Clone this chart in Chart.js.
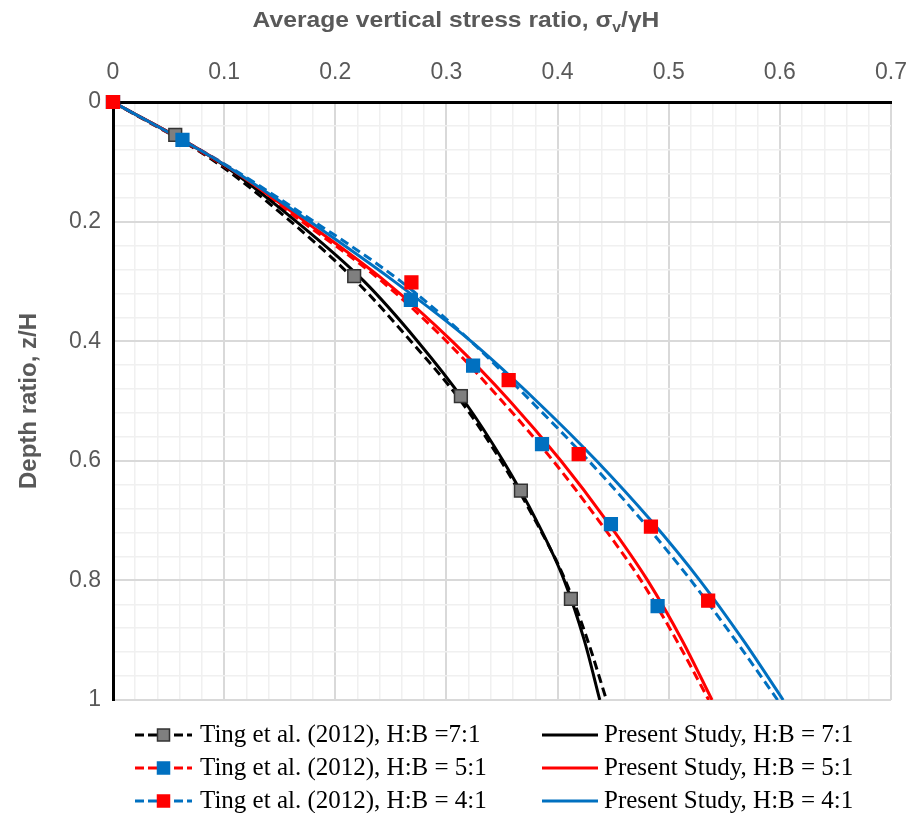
<!DOCTYPE html>
<html>
<head>
<meta charset="utf-8">
<title>Average vertical stress ratio vs depth ratio</title>
<script src="https://cdn.jsdelivr.net/npm/chart.js@4.4.0/dist/chart.umd.min.js"></script>
<style>
    html, body { margin: 0; padding: 0; background: #ffffff; }
    #wrap { width: 914px; height: 813px; position: relative; }
</style>
</head>
<body>
<div id="wrap"><canvas id="stressChart"></canvas></div>
<script>
const depthRatio = [0, 0.1, 0.2, 0.3, 0.4, 0.5, 0.6, 0.7, 0.8, 0.9, 1.0];

// present study, sigma_v / gamma H (solid lines)
const present71 = [0, 0.095, 0.165, 0.226, 0.274, 0.316, 0.351, 0.381, 0.406, 0.424, 0.438];
const present51 = [0, 0.096, 0.173, 0.245, 0.305, 0.357, 0.403, 0.444, 0.481, 0.512, 0.539];
const present41 = [0, 0.096, 0.177, 0.253, 0.322, 0.381, 0.435, 0.484, 0.528, 0.567, 0.603];

// Ting et al. (2012) curves (dashed lines)
const ting71 = [0, 0.092, 0.160, 0.219, 0.268, 0.313, 0.349, 0.380, 0.407, 0.427, 0.444];
const ting51 = [0, 0.094, 0.170, 0.242, 0.300, 0.350, 0.396, 0.437, 0.475, 0.507, 0.536];
const ting41 = [0, 0.097, 0.181, 0.259, 0.322, 0.376, 0.428, 0.476, 0.520, 0.560, 0.598];

// Ting et al. (2012) data points (squares)
const tingPtsDepth71  = [0, 0.055, 0.291, 0.492, 0.650, 0.831];
const tingPtsStress71 = [0, 0.056, 0.217, 0.313, 0.367, 0.412];
const tingPtsDepth51  = [0, 0.0635, 0.331, 0.441, 0.572, 0.706, 0.843];
const tingPtsStress51 = [0, 0.0625, 0.268, 0.324, 0.386, 0.448, 0.490];
const tingPtsDepth41  = [0, 0.3015, 0.465, 0.589, 0.710, 0.834];
const tingPtsStress41 = [0, 0.2685, 0.356, 0.419, 0.484, 0.5355];

// axis ranges / steps
const xMax = 0.7, xMinor = 0.02, xMajor = 0.1;
const yMax = 1.0, yMinor = 0.04, yMajor = 0.2;

const BLACK = '#000000';
const RED = '#ff0000';
const BLUE = '#0070c0';
const GREY = '#7f7f7f';
const AXIS_TEXT = '#595959';
const SANS = '"Liberation Sans", Arial, sans-serif';
const SERIF = '"Liberation Serif", "Times New Roman", serif';

function toPoints(xs, ys) {
    return xs.map((x, i) => ({ x: x, y: ys[i] }));
}

function isMultiple(v, step) {
    let r = v / step;
    return Math.abs(r - Math.round(r)) < 1e-6;
}

function curve(label, xs, color, dashed, order) {
    return {
        label: label,
        data: toPoints(xs, depthRatio),
        showLine: true,
        borderColor: color,
        borderWidth: 3,
        borderDash: dashed ? [9, 5] : [],
        pointRadius: 0,
        cubicInterpolationMode: 'monotone',
        order: order
    };
}

function squares(label, xs, ys, fill, edge, order) {
    return {
        label: label,
        data: toPoints(xs, ys),
        showLine: false,
        clip: false,
        pointStyle: 'rect',
        pointRadius: 9,
        pointBackgroundColor: fill,
        pointBorderColor: edge,
        pointBorderWidth: 1.5,
        order: order
    };
}

// legend rows: [text, line colour, dashed, square fill, square edge]
const legendLeft = [
    ['Ting et al. (2012), H:B =7:1', BLACK, true, GREY, '#333333'],
    ['Ting et al. (2012), H:B = 5:1', RED, true, BLUE, BLUE],
    ['Ting et al. (2012), H:B = 4:1', BLUE, true, RED, RED]
];
const legendRight = [
    ['Present Study, H:B = 7:1', BLACK, false],
    ['Present Study, H:B = 5:1', RED, false],
    ['Present Study, H:B = 4:1', BLUE, false]
];

const legendPlugin = {
    id: 'twoColumnLegend',
    afterDraw(chart) {
        let ctx = chart.ctx;
        let rowY = [735, 768, 801];
        ctx.save();
        ctx.font = '25px ' + SERIF;
        ctx.textBaseline = 'middle';
        ctx.fillStyle = '#000';

        const drawEntry = (row, x0, x1, textX, y) => {
            ctx.strokeStyle = row[1];
            ctx.lineWidth = 3;
            ctx.setLineDash(row[2] ? [9, 4] : []);
            ctx.beginPath();
            ctx.moveTo(x0, y);
            ctx.lineTo(x1, y);
            ctx.stroke();
            ctx.setLineDash([]);
            if (row[3]) {
                let cx = (x0 + x1) / 2;
                ctx.fillStyle = row[3];
                ctx.fillRect(cx - 6, y - 6, 12, 12);
                ctx.strokeStyle = row[4];
                ctx.lineWidth = 1.5;
                ctx.strokeRect(cx - 6, y - 6, 12, 12);
            }
            ctx.fillStyle = '#000';
            ctx.fillText(row[0], textX, y);
        };

        legendLeft.forEach((row, i) => drawEntry(row, 135, 192, 200, rowY[i]));
        legendRight.forEach((row, i) => drawEntry(row, 542, 598, 604, rowY[i]));
        ctx.restore();
    }
};

// x axis title with subscript v, drawn slightly wide like the original figure
const xTitlePlugin = {
    id: 'xTitle',
    afterDraw(chart) {
        let ctx = chart.ctx;
        let partA = 'Average vertical stress ratio, \u03c3';
        let partSub = 'v';
        let partB = '/\u03b3H';
        let stretch = 1.12;
        ctx.save();
        ctx.fillStyle = AXIS_TEXT;
        ctx.textBaseline = 'alphabetic';
        ctx.font = 'bold 22px ' + SANS;
        let wA = ctx.measureText(partA).width;
        let wB = ctx.measureText(partB).width;
        ctx.font = 'bold 14px ' + SANS;
        let wS = ctx.measureText(partSub).width;
        let total = (wA + wS + wB) * stretch;
        ctx.translate(456 - total / 2, 27);
        ctx.scale(stretch, 1);
        ctx.font = 'bold 22px ' + SANS;
        ctx.fillText(partA, 0, 0);
        ctx.font = 'bold 14px ' + SANS;
        ctx.fillText(partSub, wA, 5);
        ctx.font = 'bold 22px ' + SANS;
        ctx.fillText(partB, wA + wS, 0);
        ctx.restore();
    }
};

const ctx = document.getElementById('stressChart');

new Chart(ctx, {
    type: 'scatter',
    data: {
        datasets: [
            squares('Ting et al. (2012), H:B = 4:1', tingPtsStress41, tingPtsDepth41, RED, RED, 0),
            squares('Ting et al. (2012), H:B = 5:1', tingPtsStress51, tingPtsDepth51, BLUE, BLUE, 1),
            squares('Ting et al. (2012), H:B =7:1', tingPtsStress71, tingPtsDepth71, GREY, '#333333', 2),
            curve('Present Study, H:B = 4:1', present41, BLUE, false, 3),
            curve('Present Study, H:B = 5:1', present51, RED, false, 4),
            curve('Present Study, H:B = 7:1', present71, BLACK, false, 5),
            curve('Ting et al. (2012), H:B = 4:1', ting41, BLUE, true, 6),
            curve('Ting et al. (2012), H:B = 5:1', ting51, RED, true, 7),
            curve('Ting et al. (2012), H:B =7:1', ting71, BLACK, true, 8)
        ]
    },
    options: {
        responsive: true,
        maintainAspectRatio: false,
        animation: false,
        layout: { padding: { top: 0, left: 0, right: 23, bottom: 113 } },
        plugins: {
            legend: { display: false },
            tooltip: { enabled: false }
        },
        scales: {
            x: {
                type: 'linear',
                position: 'top',
                min: 0,
                max: xMax,
                afterFit: (scale) => {
                    scale.height = 102;
                    scale.paddingLeft = 0;
                    scale.paddingRight = 0;
                },
                border: { display: true, color: BLACK, width: 3 },
                grid: {
                    drawTicks: false,
                    lineWidth: (c) => isMultiple(c.tick.value, xMajor) ? 2 : 1.5,
                    color: (c) => {
                        if (c.tick.value === 0) return 'rgba(0,0,0,0)';
                        return isMultiple(c.tick.value, xMajor) ? '#d9d9d9' : '#f0f0f0';
                    }
                },
                ticks: {
                    stepSize: xMinor,
                    autoSkip: false,
                    maxRotation: 0,
                    padding: 16,
                    color: AXIS_TEXT,
                    font: { family: SANS, size: 23 },
                    callback: (v) => isMultiple(v, xMajor) ? String(Math.round(v * 10) / 10) : ''
                }
            },
            y: {
                type: 'linear',
                reverse: true,
                min: 0,
                max: yMax,
                afterFit: (scale) => {
                    scale.width = 113;
                    scale.paddingTop = 0;
                    scale.paddingBottom = 0;
                },
                border: { display: true, color: BLACK, width: 3 },
                grid: {
                    drawTicks: false,
                    lineWidth: (c) => isMultiple(c.tick.value, yMajor) ? 2 : 1.5,
                    color: (c) => {
                        if (c.tick.value === 0) return 'rgba(0,0,0,0)';
                        return isMultiple(c.tick.value, yMajor) ? '#d9d9d9' : '#f0f0f0';
                    }
                },
                ticks: {
                    stepSize: yMinor,
                    autoSkip: false,
                    padding: 12,
                    color: AXIS_TEXT,
                    font: { family: SANS, size: 23 },
                    callback: (v) => isMultiple(v, yMajor) ? String(Math.round(v * 10) / 10) : ''
                },
                title: {
                    display: true,
                    text: 'Depth ratio, z/H',
                    color: AXIS_TEXT,
                    font: { family: SANS, size: 24, weight: 'bold' },
                    padding: { top: 15, bottom: 0 }
                }
            }
        }
    },
    plugins: [legendPlugin, xTitlePlugin]
});
</script>
</body>
</html>
